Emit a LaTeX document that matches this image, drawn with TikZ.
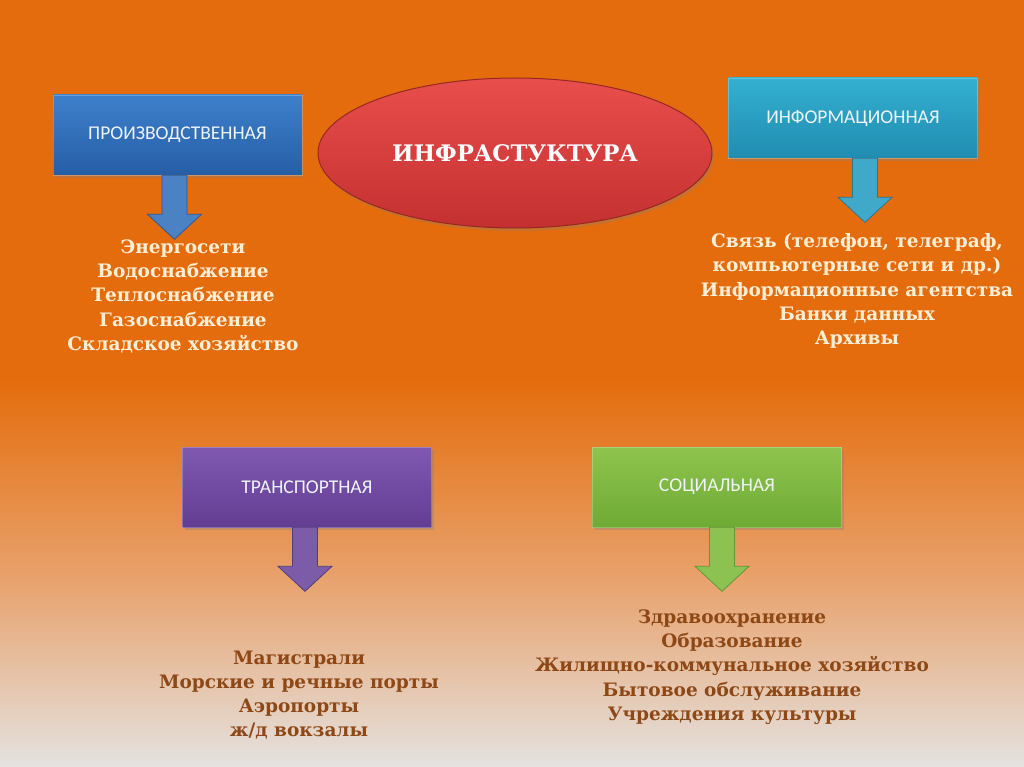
\documentclass[tikz,border=0pt]{standalone}
\usepackage{fontspec}
\setmainfont{DejaVu Serif}
\newfontfamily\boxfont{Carlito}
\newfontfamily\listfont{DejaVu Serif}
\usetikzlibrary{calc,shapes.geometric,shadows}
\definecolor{bgorange}{RGB}{228,108,12}
\definecolor{bgmid}{RGB}{232,160,105}
\definecolor{bglight}{RGB}{228,226,224}
\definecolor{cream}{RGB}{253,238,214}
\definecolor{brownt}{RGB}{142,72,22}
\definecolor{boxtext}{RGB}{240,244,248}
\tikzset{
  catbox/.style={draw=white, draw opacity=0.25, line width=0.6pt, minimum width=249pt, minimum height=80pt,
    text=boxtext, font=\boxfont\fontsize{19.5}{22}\selectfont,
    drop shadow={opacity=0.35, shadow xshift=2pt, shadow yshift=-3pt}},
  listtext/.style={align=center, font=\listfont\bfseries\fontsize{18.5}{24.3}\selectfont},
  blkarrow/.style={line width=0.8pt, line join=miter}
}
\newcommand{\dnarrow}[2]{%
  \draw[blkarrow,#2] ($(#1)+(-12.5,0)$) -- ($(#1)+(-12.5,39)$) -- ($(#1)+(-27,39)$)
    -- ($(#1)+(0,64)$) -- ($(#1)+(27,39)$) -- ($(#1)+(12.5,39)$) -- ($(#1)+(12.5,0)$) -- cycle;}
\begin{document}
\begin{tikzpicture}[x=1pt,y=-1pt]
\useasboundingbox (0,0) rectangle (1024,767);
% background
\fill[bgorange] (0,0) rectangle (1024,380);
\shade[top color=bgorange, bottom color=bglight, middle color=bgmid, shading angle=0] (0,379) rectangle (1024,767);

% category boxes
\node[catbox, top color={rgb,255:red,62;green,128;blue,204}, bottom color={rgb,255:red,38;green,94;blue,166}] (b1) at (177.5,135) {ПРОИЗВОДСТВЕННАЯ};
\node[catbox, top color={rgb,255:red,52;green,176;blue,208}, bottom color={rgb,255:red,32;green,140;blue,176}] (b2) at (853,118) {ИНФОРМАЦИОННАЯ};
\node[catbox, top color={rgb,255:red,128;green,88;blue,176}, bottom color={rgb,255:red,98;green,62;blue,146}] (b3) at (307,487) {ТРАНСПОРТНАЯ};
\node[catbox, top color={rgb,255:red,142;green,196;blue,78}, bottom color={rgb,255:red,110;green,170;blue,52}] (b4) at (717,487) {СОЦИАЛЬНАЯ};

% central ellipse
\node[ellipse, draw={rgb,255:red,150;green,40;blue,36}, line width=1pt,
  top color={rgb,255:red,232;green,78;blue,76}, bottom color={rgb,255:red,196;green,48;blue,48},
  minimum width=394pt, minimum height=150pt, text=white,
  font=\listfont\bfseries\fontsize{22.8}{26}\selectfont,
  drop shadow={opacity=0.3, shadow xshift=2pt, shadow yshift=-3pt}] (c) at (515,153) {ИНФРАСТУКТУРА};

% arrows
\coordinate (a1) at ($(b1.south)+(-3,0)$);
\coordinate (a2) at ($(b2.south)+(12,0)$);
\coordinate (a3) at ($(b3.south)+(-2,0)$);
\coordinate (a4) at ($(b4.south)+(5,0)$);
\dnarrow{a1}{fill={rgb,255:red,74;green,130;blue,196}, draw={rgb,255:red,44;green,90;blue,150}}
\dnarrow{a2}{fill={rgb,255:red,64;green,168;blue,200}, draw={rgb,255:red,40;green,120;blue,150}}
\dnarrow{a3}{fill={rgb,255:red,124;green,92;blue,168}, draw={rgb,255:red,84;green,60;blue,124}}
\dnarrow{a4}{fill={rgb,255:red,140;green,194;blue,82}, draw={rgb,255:red,100;green,150;blue,56}}

% lists
\node[listtext, text=cream, anchor=north] (l1) at (183,236) {Энергосети\\Водоснабжение\\Теплоснабжение\\Газоснабжение\\Складское хозяйство};
\node[listtext, text=cream, anchor=north] (l2) at (857,230) {Связь (телефон, телеграф,\\компьютерные сети и др.)\\Информационные агентства\\Банки данных\\Архивы};
\node[listtext, text=brownt, anchor=north] (l3) at (299,647) {Магистрали\\Морские и речные порты\\Аэропорты\\ж/д вокзалы};
\node[listtext, text=brownt, anchor=north] (l4) at (732,606) {Здравоохранение\\Образование\\Жилищно-коммунальное хозяйство\\Бытовое обслуживание\\Учреждения культуры};
\end{tikzpicture}
\end{document}
